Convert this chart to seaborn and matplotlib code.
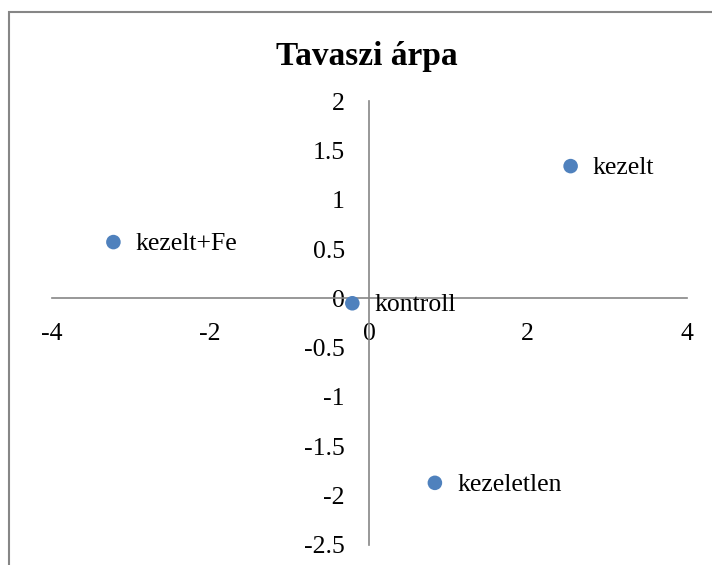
import matplotlib
matplotlib.use("Agg")
import matplotlib.pyplot as plt
from matplotlib.patches import Rectangle
import seaborn as sns
import pandas as pd

# Score coordinates of the four treatments
labels = ["kezelt", "kezelt+Fe", "kontroll", "kezeletlen"]
x_vals = [2.54, -3.22, -0.21, 0.83]
y_vals = [1.34, 0.57, -0.05, -1.87]

x_ticks = [-4, -2, 0, 2, 4]
y_ticks = [2, 1.5, 1, 0.5, 0, -0.5, -1, -1.5, -2, -2.5]
y_tick_labels = ["2", "1.5", "1", "0.5", "0", "-0.5", "-1", "-1.5", "-2", "-2.5"]

df = pd.DataFrame({"x": x_vals, "y": y_vals, "label": labels})

sns.set_theme(style="white")
plt.rcParams["font.family"] = ["Liberation Serif", "DejaVu Serif"]

W, H = 712, 565
fig = plt.figure(figsize=(W / 100, H / 100), dpi=100)
fig.patch.set_facecolor("white")

# chart frame (top and left edges visible)
fig.patches.append(Rectangle((9 / W, -0.1), 1.2, 1 - 12 / H + 0.1,
                             transform=fig.transFigure, fill=False,
                             edgecolor="#868686", linewidth=1.5))

left, right = 51.5 / W, 686.5 / W
top, bottom = 1 - 101 / H, 1 - 545 / H
ax = fig.add_axes([left, bottom, right - left, top - bottom])
ax.set_facecolor("none")

sns.scatterplot(data=df, x="x", y="y", ax=ax, s=110, color="#4F81BD",
                edgecolor="none", legend=False, zorder=3, clip_on=False)

ax.set_xlim(-4, 4)
ax.set_ylim(-2.5, 2)
ax.set_xlabel("")
ax.set_ylabel("")

axis_col = "#868686"
for side in ["top", "right"]:
    ax.spines[side].set_visible(False)
ax.spines["left"].set_position(("data", 0))
ax.spines["bottom"].set_position(("data", 0))
for side in ["left", "bottom"]:
    ax.spines[side].set_color(axis_col)
    ax.spines[side].set_linewidth(1.2)

ax.set_xticks(x_ticks)
ax.set_xticklabels([str(v) for v in x_ticks])
ax.set_yticks(y_ticks)
ax.set_yticklabels(y_tick_labels)
ax.tick_params(axis="x", length=0, pad=17.5, labelsize=18.5, colors="black")
ax.tick_params(axis="y", length=0, pad=17.5, labelsize=18.5, colors="black")

for _, r in df.iterrows():
    ax.annotate(r["label"], (r["x"], r["y"]), xytext=(16, -1.5),
                textcoords="offset points", ha="left", va="center",
                fontsize=18.5, color="black", zorder=4)

fig.text(0.5 * (left + right) - 2 / W, 1 - 56 / H, "Tavaszi árpa",
         ha="center", va="center", fontsize=24, fontweight="bold",
         color="black")

fig.savefig("out.png", dpi=100, facecolor="white")
